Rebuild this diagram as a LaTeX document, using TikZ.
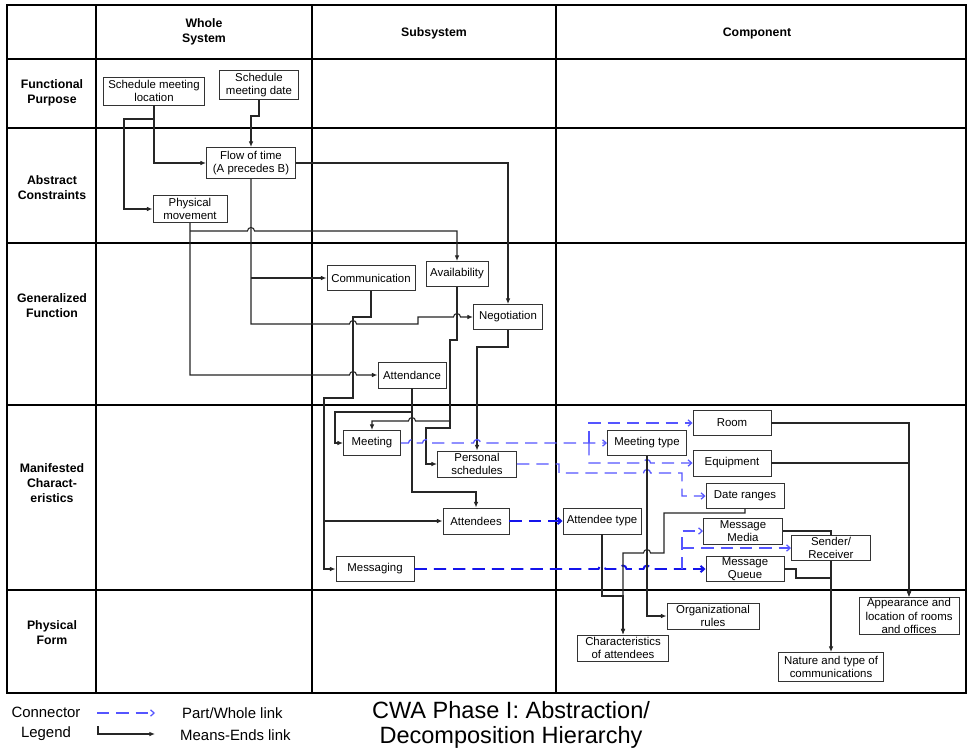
\documentclass[tikz,border=0pt]{standalone}
\usepackage{fontspec}
\setmainfont{Liberation Sans}
\usetikzlibrary{arrows.meta}
\definecolor{pwblue}{RGB}{85,85,255}
\definecolor{pwdark}{RGB}{20,20,235}
\begin{document}
\begin{tikzpicture}[x=0.02cm,y=-0.02cm,
  box/.style={draw=black!80,line width=0.55pt,fill=white,align=center,inner sep=0pt,font=\fontsize{6.5}{7.6}\selectfont},
  sz/.style 2 args={minimum width=#1*0.02cm,minimum height=#2*0.02cm},
  lbl/.style={align=center,font=\fontsize{7}{8.6}\selectfont\bfseries},
  mel/.style={draw=black!85,line width=0.6pt,-{Latex[length=3.2pt,width=2.6pt]}},
  meline/.style={draw=black!85,line width=0.6pt},
  pw/.style={draw=pwblue,line width=0.7pt,dash pattern=on 7pt off 4pt,-{Straight Barb[length=2pt,width=3.6pt]}},
  pwbold/.style={pw,draw=pwdark,line width=1.1pt}]
  \useasboundingbox[fill=white] (0,0) rectangle (969,750);
  \draw[line width=0.7pt] (7,5) rectangle (966,693);
  \foreach \x in {96,312,556} \draw[line width=0.7pt] (\x,5)--(\x,693);
  \foreach \y in {59,128,243,405,590} \draw[line width=0.7pt] (7,\y)--(966,\y);
  \node[lbl] (hwhole) at (204,32) {Whole\\System};
  \node[lbl] (hsub) at (434,33) {Subsystem};
  \node[lbl] (hcomp) at (757,33) {Component};
  \node[lbl] (rfp) at (52,93) {Functional\\Purpose};
  \node[lbl] (rac) at (52,188) {Abstract\\Constraints};
  \node[lbl] (rgf) at (52,306) {Generalized\\Function};
  \node[lbl] (rmc) at (52,483) {Manifested\\Charact-\\eristics};
  \node[lbl] (rpf) at (52,633) {Physical\\Form};
  \foreach \n/\x/\y/\w/\h/\t in {
    sml/154/91/101/28/{Schedule meeting\\location},
    smd/259/85/79/29/{Schedule\\meeting date},
    flow/251/163/89/31/{Flow of time\\(A precedes B)},
    phys/190/209/74/27/{Physical\\movement},
    comm/371/278/88/25/{Communication},
    avail/457/274/62/25/{Availability},
    nego/508/317/69/25/{Negotiation},
    attd/412/375/68/26/{Attendance},
    meet/372/443/57/25/{Meeting},
    pers/477/464/79/26/{Personal\\schedules},
    atts/476/521/66/26/{Attendees},
    msg/375/569/78/25/{Messaging},
    atype/602/521/78/26/{Attendee type},
    room/732/423/78/25/{Room},
    mtype/647/443/79/25/{Meeting type},
    equip/732/463/78/26/{Equipment},
    dates/745/496/78/25/{Date ranges},
    media/743/531/79/26/{Message\\Media},
    sender/831/548/79/25/{Sender/\\Receiver},
    queue/745/569/78/25/{Message\\Queue},
    orgr/713/616/92/26/{Organizational\\rules},
    chars/623/648/91/26/{Characteristics\\of attendees},
    appear/909/616/100/37/{Appearance and\\location of rooms\\and offices},
    nature/831/667/105/29/{Nature and type of\\communications}}
    \node[box,sz={\w}{\h}] (\n) at (\x,\y) {\t};
  \draw[mel] (sml.south) |- (flow.west);
  \draw[mel] (154,119) -- (124,119) |- (phys.west);
  \draw[mel] (smd.south) -- (259,116) -| (flow.north);
  \draw[mel] (flow.east) -| (nego.north);
  \draw[mel] (flow.south) |- ([xshift=-2pt]353,324) arc (180:0:2pt) -- (418,324) -- (418,317) -- ([xshift=-2pt]457,317) arc (180:0:2pt) -- (nego.west);
  \draw[mel] (251,278) -- (comm.west);
  \draw[mel] (phys.south) |- ([xshift=-2pt]353,375) arc (180:0:2pt) -- (attd.west);
  \draw[mel] (190,231) -- ([xshift=-2pt]251,231) arc (180:0:2pt) -| (avail.north);
  \draw[mel] (comm.south) -- (371,317) -- (353,317) -- (353,398) -- (324,398) |- (msg.west);
  \draw[mel] (324,521) -- (atts.west);
  \draw[mel] (avail.south) -- (457,340) -- (450,340) -- (450,428) -- (426,428) |- (pers.west);
  \draw[mel] (450,421) -- ([xshift=2pt]412,421) arc (0:180:2pt) -| (meet.north);
  \draw[mel] (attd.south) -- (412,492) -| (atts.north);
  \draw[mel] (412,412) -- (335,412) |- (meet.west);
  \draw[mel] (nego.south) -- (508,347) -| (pers.north);
  \draw[pw] (meet.east) -- ([xshift=-2pt]412,443) arc (180:0:2pt) -- ([xshift=-2pt]426,443) arc (180:0:2pt) -- ([xshift=-2pt]477,443) arc (180:0:2pt) -- (mtype.west);
  \draw[pw] (589,443) |- (room.west);
  \draw[pw] (589,443) |- ([xshift=-2pt]647,463) arc (180:0:2pt) -- (equip.west);
  \draw[pw] (pers.east) -- (559,464) |- ([xshift=-2pt]647,473) arc (180:0:2pt) -- (682,473) |- (dates.west);
  \draw[pwbold] (atts.east) -- (atype.west);
  \draw[pwbold] (msg.east) -- ([xshift=-2pt]602,569) arc (180:0:2pt) -- ([xshift=-2pt]623,569) arc (180:0:2pt) -- ([xshift=-2pt]647,569) arc (180:0:2pt) -- (queue.west);
  \draw[pw] (682,569) |- (media.west);
  \draw[pw] (682,548) -- (sender.west);
  \draw[mel] (atype.south) |- (623,596) -- (chars.north);
  \draw[mel] (dates.south) -- (745,513) -| (664,553) -- ([xshift=2pt]647,553) arc (0:180:2pt) -- (623,553) -- (chars.north);
  \draw[mel] (mtype.south) |- (orgr.west);
  \draw[mel] (room.east) -| (appear.north);
  \draw[mel] (equip.east) -| (appear.north);
  \draw[meline] (media.east) -| (sender.north);
  \draw[mel] (sender.south) -- (nature.north);
  \draw[meline] (queue.east) -- (796,569) -- (796,578) -- (831,578);
  \node[align=center,font=\fontsize{8.5}{11.3}\selectfont] (leg) at (46,724) {Connector\\Legend};
  \coordinate (pwa) at (97,713);
  \coordinate (pwb) at (155,713);
  \draw[pw] (pwa) -- (pwb);
  \node[anchor=west,font=\fontsize{8.5}{10}\selectfont] (pwtxt) at (176,713) {Part/Whole link};
  \coordinate (mea) at (98,726);
  \coordinate (meb) at (155,734);
  \draw[mel] (mea) |- (meb);
  \node[anchor=west,font=\fontsize{8.5}{10}\selectfont] (metxt) at (174,735) {Means-Ends link};
  \node[align=center,font=\fontsize{13.4}{13.8}\selectfont] (title) at (511,725) {CWA Phase I: Abstraction/\\Decomposition Hierarchy};
\end{tikzpicture}
\end{document}
